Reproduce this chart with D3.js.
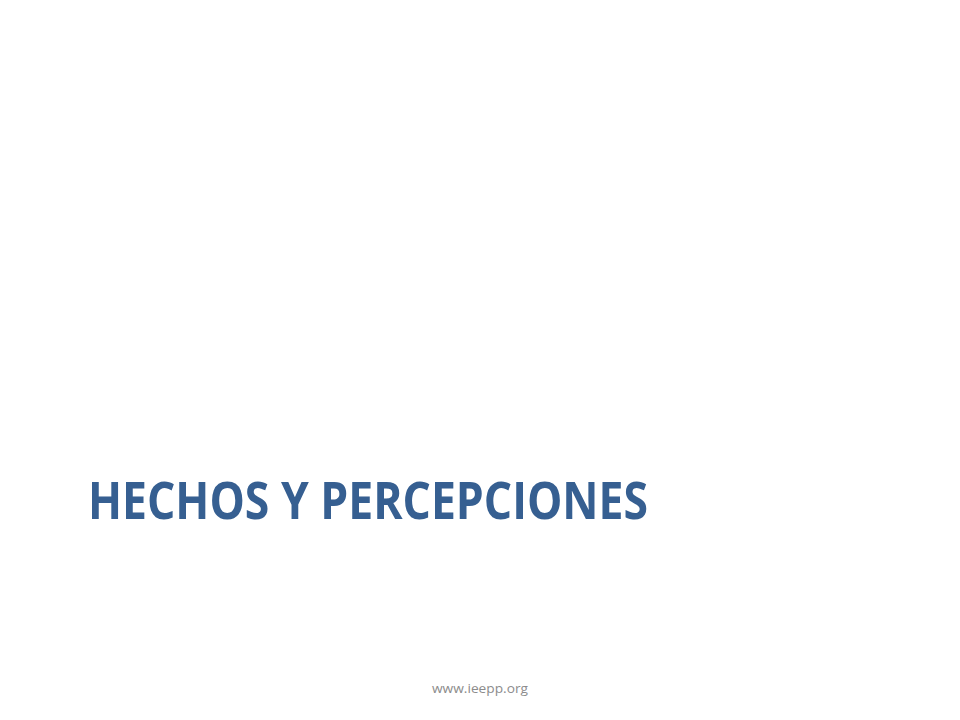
<!DOCTYPE html>
<html lang="es">

<head>
    <meta charset="UTF-8">
    <title>Hechos y percepciones</title>
</head>

<body style="margin:0;background:#fff;">
    <div class="chart"></div>
    <script src="https://d3js.org/d3.v7.min.js"></script>
    <script type="text/javascript">
    // slide texts
    var titleLines = ['HECHOS Y PERCEPCIONES'];
    var footerLines = ['www.ieepp.org'];

    var width = 960,
        height = 720;

    var svg = d3.select(".chart").append("svg")
        .attr("width", width)
        .attr("height", height)
        .style("display", "block");

    svg.append("rect")
        .attr("width", width)
        .attr("height", height)
        .style("fill", "#ffffff");

    // title, stretched to the width it takes in the slide
    svg.selectAll("text.title")
        .data(titleLines)
        .enter().append("text")
        .attr("class", "title")
        .attr("x", 88)
        .attr("y", 519)
        .attr("textLength", 560)
        .attr("lengthAdjust", "spacingAndGlyphs")
        .style("font-family", "'Open Sans', 'Liberation Sans', sans-serif")
        .style("font-weight", "bold")
        .style("font-size", "52px")
        .style("fill", "#365f91")
        .text(function(d) { return d; });

    svg.selectAll("text.footer")
        .data(footerLines)
        .enter().append("text")
        .attr("class", "footer")
        .attr("x", 480)
        .attr("y", 693)
        .attr("text-anchor", "middle")
        .attr("textLength", 96)
        .attr("lengthAdjust", "spacingAndGlyphs")
        .style("font-family", "'Open Sans', sans-serif")
        .style("font-size", "13px")
        .style("fill", "#8c8c8c")
        .text(function(d) { return d; });
    </script>
</body>

</html>
